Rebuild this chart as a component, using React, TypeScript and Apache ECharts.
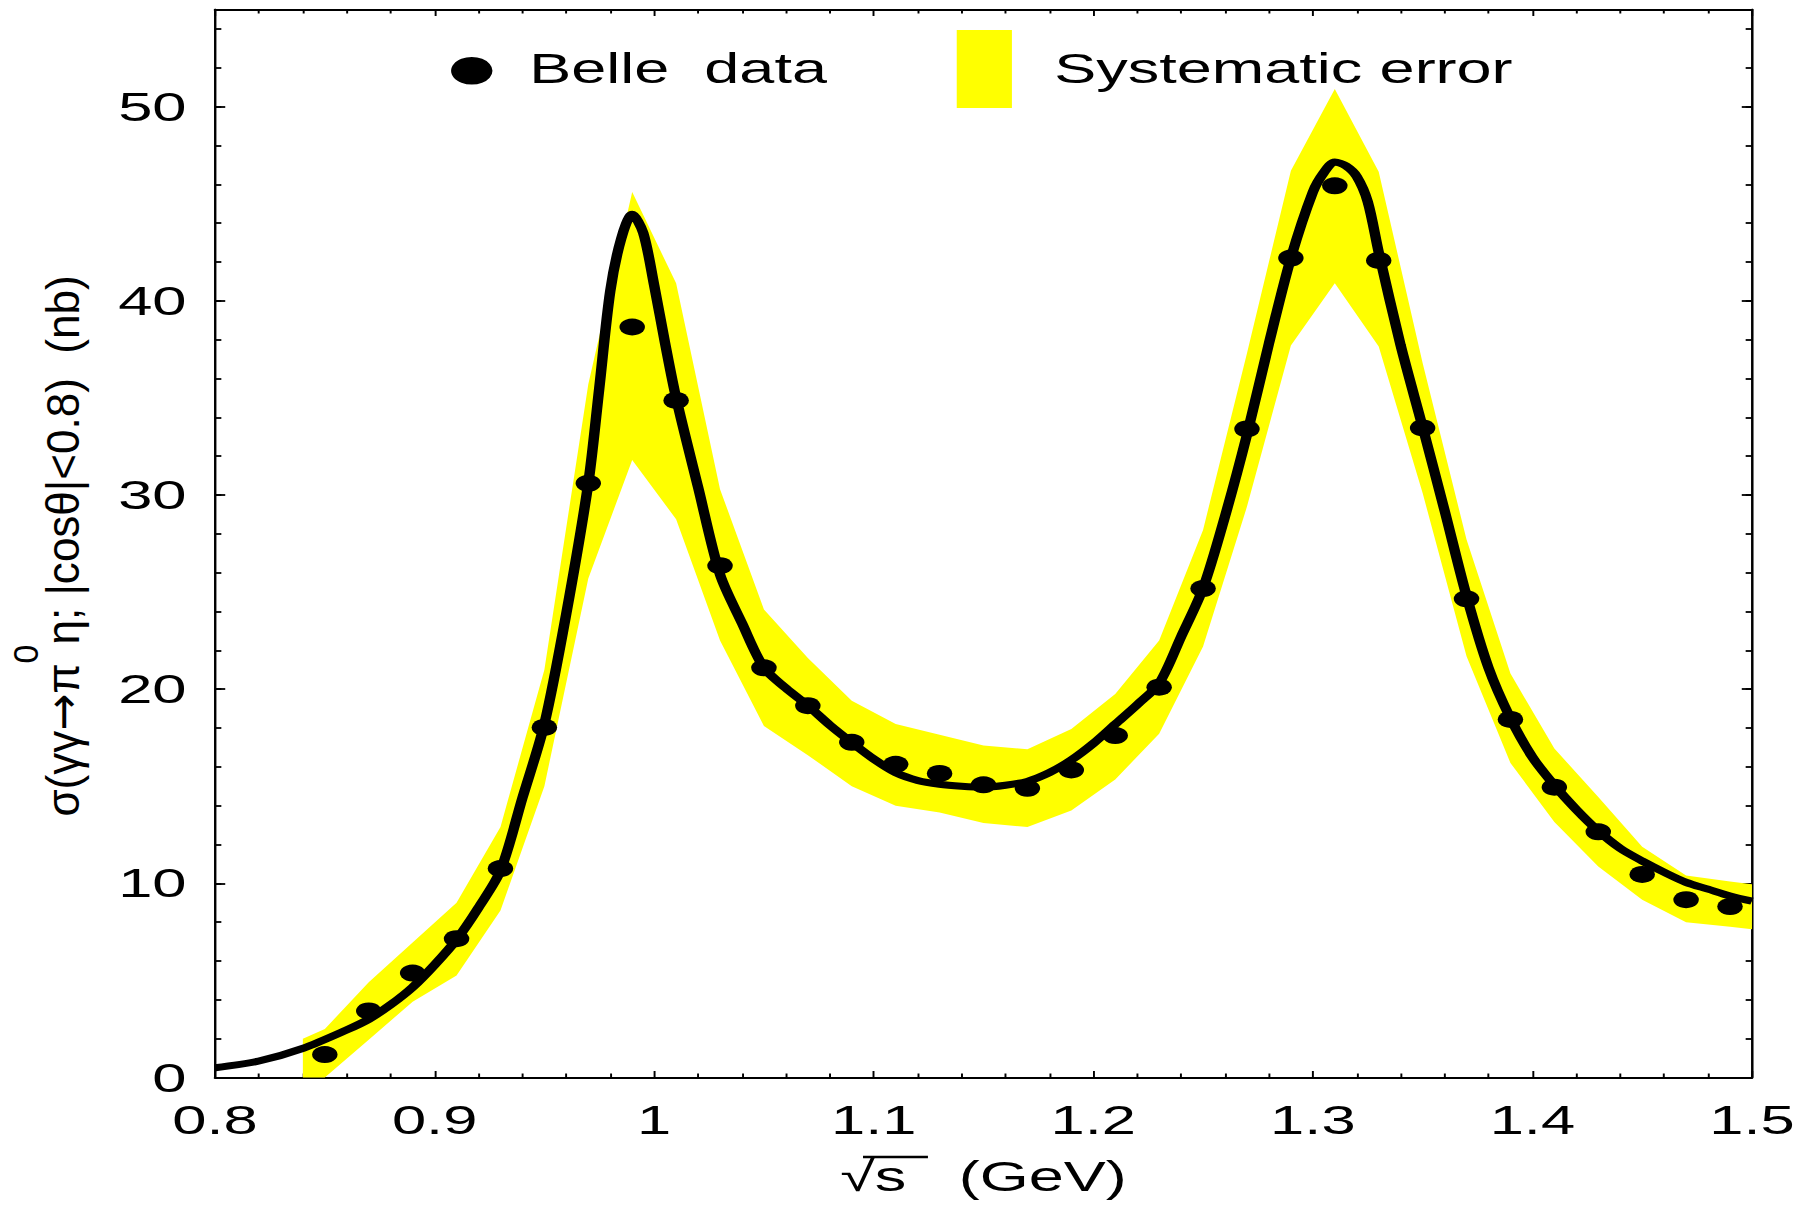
import React, { useEffect, useRef } from 'react';
import * as echarts from 'echarts';

// Belle data points
const belleX = [0.85, 0.87, 0.89, 0.91, 0.93, 0.95, 0.97, 0.99, 1.01, 1.03, 1.05, 1.07, 1.09, 1.11, 1.13, 1.15, 1.17, 1.19, 1.21, 1.23, 1.25, 1.27, 1.29, 1.31, 1.33, 1.35, 1.37, 1.39, 1.41, 1.43, 1.45, 1.47, 1.49];
const belleY = [1.18, 3.43, 5.38, 7.15, 10.76, 18.03, 30.6, 38.65, 34.87, 26.36, 21.1, 19.15, 17.26, 16.13, 15.66, 15.07, 14.89, 15.84, 17.61, 20.1, 25.18, 33.4, 42.2, 45.92, 42.08, 33.45, 24.65, 18.44, 14.95, 12.65, 10.46, 9.16, 8.8];

// Systematic error band
const bandX = [0.84, 0.85, 0.87, 0.89, 0.91, 0.93, 0.95, 0.97, 0.99, 1.01, 1.03, 1.05, 1.07, 1.09, 1.11, 1.13, 1.15, 1.17, 1.19, 1.21, 1.23, 1.25, 1.27, 1.29, 1.31, 1.33, 1.35, 1.37, 1.39, 1.41, 1.43, 1.45, 1.47, 1.49, 1.5];
const bandUpper = [2.0, 2.5, 4.9, 6.95, 9.0, 12.9, 21.0, 35.7, 45.6, 40.9, 30.3, 24.1, 21.6, 19.4, 18.2, 17.65, 17.1, 16.9, 17.95, 19.75, 22.5, 28.2, 37.3, 46.7, 50.9, 46.65, 36.8, 27.7, 20.8, 16.94, 14.45, 11.88, 10.4, 10.1, 9.95];
const bandLower = [0, 0, 1.95, 3.9, 5.25, 8.6, 15.0, 25.7, 31.8, 28.75, 22.5, 18.1, 16.6, 15.0, 14.0, 13.65, 13.1, 12.9, 13.75, 15.35, 17.7, 22.2, 29.4, 37.7, 40.9, 37.65, 30.1, 21.7, 16.2, 13.16, 10.86, 9.15, 8.0, 7.76, 7.64];

// Theory curve
const curveX = [0.8, 0.82, 0.84, 0.86, 0.87, 0.88, 0.89, 0.9, 0.91, 0.92, 0.93, 0.94, 0.95, 0.96, 0.97, 0.975, 0.98, 0.985, 0.99, 0.995, 1.0, 1.005, 1.01, 1.02, 1.03, 1.04, 1.05, 1.06, 1.07, 1.08, 1.09, 1.1, 1.11, 1.12, 1.13, 1.14, 1.15, 1.16, 1.17, 1.18, 1.19, 1.2, 1.21, 1.22, 1.23, 1.24, 1.25, 1.26, 1.27, 1.28, 1.29, 1.3, 1.305, 1.31, 1.315, 1.32, 1.325, 1.33, 1.34, 1.35, 1.36, 1.37, 1.38, 1.39, 1.4, 1.41, 1.42, 1.43, 1.44, 1.45, 1.46, 1.47, 1.48, 1.49, 1.5];
const curveY = [0.5, 0.85, 1.5, 2.45, 3.0, 3.75, 4.65, 5.8, 7.1, 8.75, 10.65, 14.4, 18.2, 23.9, 30.6, 35.5, 40.5, 43.2, 44.45, 43.5, 40.8, 37.8, 35.0, 30.4, 25.9, 23.4, 21.1, 20.05, 19.15, 18.15, 17.25, 16.4, 15.7, 15.3, 15.1, 15.0, 14.95, 15.05, 15.25, 15.7, 16.35, 17.2, 18.2, 19.2, 20.3, 22.7, 25.2, 28.9, 33.1, 37.8, 42.2, 45.6, 46.6, 47.15, 46.95, 46.4, 45.1, 42.5, 37.7, 33.5, 29.2, 24.8, 21.1, 18.5, 16.5, 15.05, 13.8, 12.7, 11.8, 11.15, 10.57, 10.05, 9.7, 9.35, 9.08];

// Tick labels
const xTickValues = [0.8, 0.9, 1.0, 1.1, 1.2, 1.3, 1.4, 1.5];
const xTickLabels = ['0.8', '0.9', '1', '1.1', '1.2', '1.3', '1.4', '1.5'];
const yTickValues = [0, 10, 20, 30, 40, 50];
const yTickLabels = ['0', '10', '20', '30', '40', '50'];

const W = 1201;
const H = 1205;
const STRETCH = 1801 / W;
const FONT = "'Liberation Sans', Arial, Helvetica, sans-serif";

const labelFor = (values: number[], labels: string[]) => (v: number) => {
  const i = values.findIndex((t) => Math.abs(t - v) < 1e-6);
  return i >= 0 ? labels[i] : '';
};

export default function App() {
  const ref = useRef<HTMLDivElement>(null);
  useEffect(() => {
    if (!ref.current) return;
    const chart = echarts.init(ref.current, null, { renderer: 'svg' });
    const axisLineX = { show: true, onZero: false, lineStyle: { color: '#000', width: 1.8 } };
    const axisLineY = { show: true, onZero: false, lineStyle: { color: '#000', width: 1.4 } };
    const xCommon = {
      type: 'value',
      min: 0.8,
      max: 1.5,
      interval: 0.1,
      axisLine: axisLineX,
      axisTick: { show: true, inside: true, length: 6.5, lineStyle: { color: '#000', width: 1.3 } },
      minorTick: { show: true, splitNumber: 5, length: 4, lineStyle: { color: '#000', width: 1.3 } },
      splitLine: { show: false },
      minorSplitLine: { show: false },
    };
    const yMajor = {
      type: 'value',
      min: 0,
      max: 55,
      interval: 10,
      axisLine: axisLineY,
      axisTick: { show: true, inside: true, length: 6.8, lineStyle: { color: '#000', width: 1.8 } },
      splitLine: { show: false },
    };
    const yMinor = {
      type: 'value',
      min: 0,
      max: 55,
      interval: 2,
      axisLine: axisLineY,
      axisTick: { show: true, inside: true, length: 4.2, lineStyle: { color: '#000', width: 1.8 } },
      axisLabel: { show: false },
      splitLine: { show: false },
    };
    const option = {
      animation: false,
      backgroundColor: '#ffffff',
      grid: { left: 143.4, right: 32.7, top: 9.5, bottom: 127.5, containLabel: false },
      xAxis: [
        {
          ...xCommon,
          position: 'bottom',
          axisLabel: {
            show: true,
            margin: 22,
            fontSize: 41,
            color: '#000',
            fontFamily: FONT,
            formatter: labelFor(xTickValues, xTickLabels),
          },
          name: '\u221As\u00a0\u00a0\u00a0(GeV)',
          nameLocation: 'middle',
          nameGap: 78,
          nameTextStyle: { fontSize: 42, color: '#000', fontFamily: FONT },
        },
        { ...xCommon, position: 'top', axisLabel: { show: false } },
      ],
      yAxis: [
        {
          ...yMajor,
          position: 'left',
          axisLabel: {
            show: true,
            margin: 19,
            fontSize: 41,
            color: '#000',
            fontFamily: FONT,
            formatter: labelFor(yTickValues, yTickLabels),
          },
        },
        { ...yMinor, position: 'left' },
        { ...yMajor, position: 'right', axisLabel: { show: false } },
        { ...yMinor, position: 'right' },
      ],
      series: [
        {
          type: 'custom',
          name: 'Systematic error',
          xAxisIndex: 0,
          yAxisIndex: 0,
          data: bandX.map((x, i) => [x, bandLower[i], bandUpper[i]]),
          encode: { x: 0, y: [1, 2] },
          silent: true,
          z: 1,
          renderItem: (params: any, api: any) => {
            if (params.dataIndex !== 0) return null;
            const top = bandX.map((x, i) => api.coord([x, bandUpper[i]]));
            const bottom = bandX.map((x, i) => api.coord([x, bandLower[i]])).reverse();
            return {
              type: 'polygon',
              shape: { points: top.concat(bottom) },
              style: { fill: '#ffff00', stroke: null },
            };
          },
        },
        {
          type: 'line',
          name: 'fit',
          xAxisIndex: 0,
          yAxisIndex: 0,
          data: curveX.map((x, i) => [x, curveY[i]]),
          symbol: 'none',
          smooth: 0.3,
          lineStyle: { color: '#000', width: 7 },
          z: 3,
        },
        {
          type: 'scatter',
          name: 'Belle  data',
          xAxisIndex: 0,
          yAxisIndex: 0,
          data: belleX.map((x, i) => [x, belleY[i]]),
          symbol: 'circle',
          symbolSize: 17,
          itemStyle: { color: '#000', opacity: 1 },
          z: 4,
        },
      ],
      graphic: [
        { type: 'circle', shape: { cx: 314.6, cy: 70.8, r: 13.8 }, style: { fill: '#000' } },
        {
          type: 'text',
          x: 353,
          y: 68,
          style: { text: 'Belle\u00a0\u00a0data', fontSize: 42, fontFamily: FONT, fill: '#000', align: 'left', verticalAlign: 'middle' },
        },
        { type: 'rect', shape: { x: 638, y: 30, width: 36.8, height: 78 }, style: { fill: '#ffff00' } },
        {
          type: 'text',
          x: 703,
          y: 68,
          style: { text: 'Systematic error', fontSize: 42, fontFamily: FONT, fill: '#000', align: 'left', verticalAlign: 'middle' },
        },
        {
          type: 'text',
          x: 31,
          y: 546,
          rotation: Math.PI / 2,
          scaleX: 1.42,
          style: {
            text: '{a|\u03C3(\u03B3\u03B3}{r|\u2192}{a|\u03C0}{b|0}{a|\u03B7; |cos\u03B8|<0.8)\u00a0\u00a0(nb)}',
            align: 'center',
            verticalAlign: 'middle',
            fontFamily: FONT,
            fill: '#000',
            rich: {
              a: { fontSize: 31, fontFamily: FONT, fill: '#000', padding: [22, 0, 0, 0], verticalAlign: 'bottom' },
              r: { fontSize: 31, fontFamily: "'DejaVu Sans', sans-serif", fill: '#000', padding: [22, 0, 0, 0], verticalAlign: 'bottom' },
              b: { fontSize: 24, fontFamily: FONT, fill: '#000', verticalAlign: 'top' },
            },
          },
        },
        { type: 'line', shape: { x1: 575.5, y1: 1157, x2: 618.8, y2: 1157 }, style: { stroke: '#000', lineWidth: 2.5 } },
      ],
    };
    chart.setOption(option as any);
    return () => chart.dispose();
  }, []);
  return (
    <div
      ref={ref}
      style={{
        position: 'fixed',
        left: 0,
        top: 0,
        width: W,
        height: H,
        transform: `scaleX(${STRETCH})`,
        transformOrigin: '0 0',
        background: '#fff',
      }}
    />
  );
}
